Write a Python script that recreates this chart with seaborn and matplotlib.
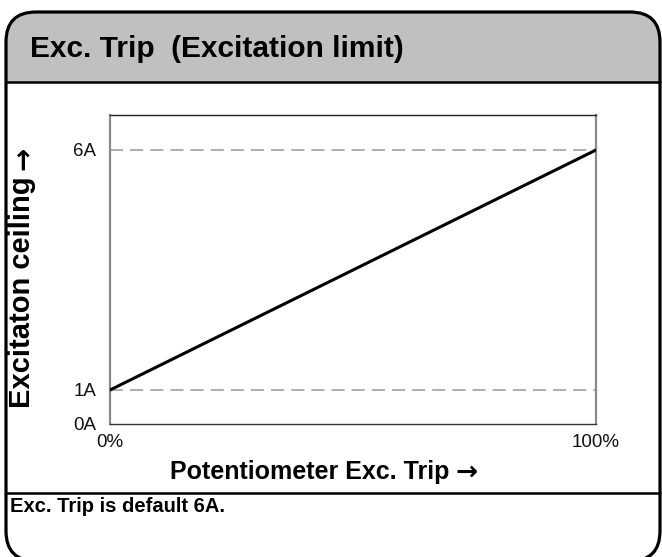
import numpy as np
import pandas as pd
import matplotlib
matplotlib.use("Agg")
import matplotlib.pyplot as plt
import seaborn as sns
from matplotlib.patches import FancyBboxPatch, Rectangle
from matplotlib.lines import Line2D
from matplotlib.transforms import IdentityTransform

# ---- data ----
pot_pct = [0, 100]
ceiling_a = [1, 6]
x_ticks = [0, 100]
x_tick_labels = ["0%", "100%"]
y_ticks = [0, 1, 6]
y_tick_labels = ["0A", "1A", "6A"]
grid_levels = [1, 6]
title_text = "Exc. Trip  (Excitation limit)"
xlabel_text = "Potentiometer Exc. Trip"
ylabel_text = "Excitaton ceiling"
arrow_text = "\u2192"
footer_text = "Exc. Trip is default 6A."

sns.set_theme(style="white")
plt.rcParams['font.family'] = ['Liberation Sans', 'DejaVu Sans']
plt.rcParams['text.color'] = 'black'
plt.rcParams['axes.labelcolor'] = 'black'

W, H = 662, 557
fig = plt.figure(figsize=(W / 100, H / 100), dpi=100)
tr = IdentityTransform()


def py(y):
    return H - y


R = 30
# header gray band (rounded top)
hdr = FancyBboxPatch((6, py(200)), 654, 188, boxstyle=f"round,pad=0,rounding_size={R}",
                     transform=tr, facecolor="#c0c0c0", edgecolor="none", zorder=0)
fig.add_artist(hdr)
fig.add_artist(Rectangle((6, py(540)), 654, 540 - 82, transform=tr,
                         facecolor="white", edgecolor="none", zorder=0.5))
# outer frame
frame = FancyBboxPatch((6, py(561)), 654, 561 - 12, boxstyle=f"round,pad=0,rounding_size={R}",
                       transform=tr, facecolor="none", edgecolor="black", lw=2.3, zorder=1)
fig.add_artist(frame)
for yy in (82, 493):
    fig.add_artist(Line2D([6, 660], [py(yy), py(yy)], transform=tr, color="black", lw=1.8, zorder=1))

fig.text(30, py(49), title_text, fontsize=21.5, fontweight="bold", ha="left", va="center",
         transform=tr, color="black")
fig.text(10, py(507), footer_text, fontsize=14.5, fontweight="bold", ha="left", va="center",
         transform=tr, color="black")

# ---- axes ----
ax = fig.add_axes([110 / W, 1 - 424 / H, 486 / W, 309 / H], zorder=2)

k = 34 / 48


def fwd(y):
    y = np.asarray(y, dtype=float)
    return np.where(y < 1, y * k, y - 1 + k)


def inv(v):
    v = np.asarray(v, dtype=float)
    return np.where(v < k, v / k, v + 1 - k)


ax.set_yscale("function", functions=(fwd, inv))

for lev in grid_levels:
    ax.axhline(lev, color="#b0b0b0", lw=1.45, dashes=(6.5, 3.5), zorder=1)

sns.lineplot(x=pot_pct, y=ceiling_a, ax=ax, color="black", lw=2.2, zorder=3)

ax.set_xlim(0, 100)
ax.set_ylim(0, 6 + 35 / 48)
ax.set_xticks(x_ticks)
ax.set_xticklabels(x_tick_labels)
ax.set_yticks(y_ticks)
ax.set_yticklabels(y_tick_labels)
ax.minorticks_off()
ax.tick_params(axis="both", which="major", direction="out", length=5, width=1,
               color="#808080", labelsize=13.5, labelcolor="#111111")
ax.tick_params(axis="y", pad=5)
ax.tick_params(axis="x", pad=2)

ax.spines["left"].set_color("#8a8a8a")
ax.spines["left"].set_linewidth(1.6)
ax.spines["right"].set_color("#8a8a8a")
ax.spines["right"].set_linewidth(1.6)
ax.spines["top"].set_color("#222222")
ax.spines["top"].set_linewidth(1.0)
ax.spines["bottom"].set_color("#333333")
ax.spines["bottom"].set_linewidth(1.0)
for s in ax.spines.values():
    s.set_visible(True)

renderer = fig.canvas.get_renderer()

# x label with arrow
xl = fig.text(170, py(470), xlabel_text, fontsize=18, fontweight="bold", ha="left",
              va="center_baseline", transform=tr, color="black")
bb = xl.get_window_extent(renderer)
fig.text(bb.x1 + 6, py(470), arrow_text, fontsize=19, fontweight="bold", ha="left",
         va="center_baseline", transform=tr, color="black", family="DejaVu Sans")

# y label with arrow (rotated, arrow points up)
yl = fig.text(22, py(408), ylabel_text, fontsize=21, fontweight="bold", rotation=90,
              ha="center", va="bottom", transform=tr, color="black")
bb = yl.get_window_extent(renderer)
fig.text(24, bb.y1 + 6, arrow_text, fontsize=20, fontweight="bold", rotation=90,
         ha="center", va="bottom", transform=tr, color="black", family="DejaVu Sans")

fig.savefig("out.png", dpi=100)
